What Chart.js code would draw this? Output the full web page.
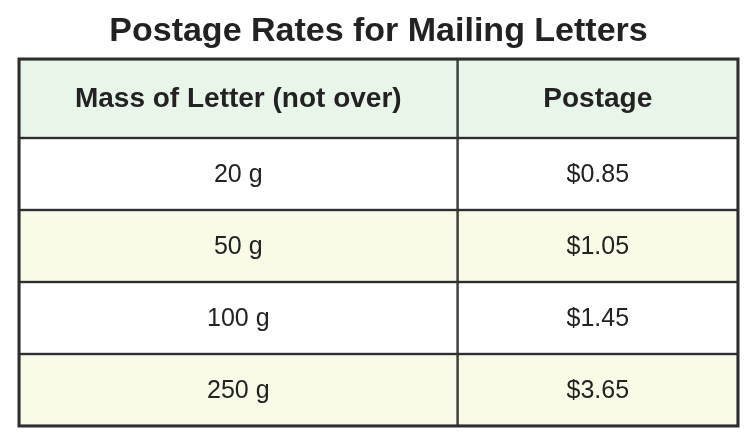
<!DOCTYPE html>
<html>
<head>
<meta charset="utf-8">
<script src="https://cdn.jsdelivr.net/npm/chart.js@4/dist/chart.umd.min.js"></script>
<style>
  html, body { margin: 0; padding: 0; background: #fff; }
  #wrap { width: 756px; height: 447px; }
</style>
</head>
<body>
<div id="wrap"><canvas id="myChart"></canvas></div>
<script>
// table content
var columns = ['Mass of Letter (not over)', 'Postage'];
var masses = ['20 g', '50 g', '100 g', '250 g'];
var postage = [0.85, 1.05, 1.45, 3.65];

// column edges on the x scale (0..100)
var colEdges = [0, 61, 100];

var headerColor = '#e8f5e9';
var stripeColor = '#f9fbe7';
var lineColor = '#2e2e2e';
var fontFamily = '"Liberation Sans", Arial, Helvetica, sans-serif';

var barStyle = {
    borderColor: lineColor,
    borderWidth: 1.5,
    borderSkipped: false,
    grouped: false,
    categoryPercentage: 1,
    barPercentage: 1
};

// header cells sit on their own stacked y axis, body cells on the other
var datasets = [];
columns.forEach(function (c, i) {
    var span = [colEdges[i], colEdges[i + 1]];
    datasets.push(Object.assign({
        label: c,
        part: 'head',
        yAxisID: 'yh',
        data: [{ x: span, y: 'header' }],
        backgroundColor: headerColor
    }, barStyle));
    datasets.push(Object.assign({
        label: c,
        part: 'body',
        col: i,
        yAxisID: 'y',
        data: masses.map(function (m) { return { x: span, y: m }; }),
        backgroundColor: masses.map(function (m, k) { return k % 2 === 1 ? stripeColor : '#ffffff'; })
    }, barStyle));
});

function cellText(ds, j) {
    if (ds.part === 'head') return ds.label;
    if (ds.col === 0) return masses[j];
    return '$' + postage[j].toFixed(2);
}

var cellLabels = {
    id: 'cellLabels',
    afterDatasetsDraw: function (chart) {
        var ctx = chart.ctx;
        var area = chart.chartArea;
        ctx.save();
        ctx.textAlign = 'center';
        ctx.textBaseline = 'middle';
        ctx.fillStyle = '#222';
        chart.data.datasets.forEach(function (ds, i) {
            chart.getDatasetMeta(i).data.forEach(function (bar, j) {
                var p = bar.getProps(['x', 'y', 'base'], true);
                ctx.font = ds.part === 'head' ? 'bold 28px ' + fontFamily : '25px ' + fontFamily;
                ctx.fillText(cellText(ds, j), (p.x + p.base) / 2, p.y + 1);
            });
        });
        // outer frame
        ctx.strokeStyle = lineColor;
        ctx.lineWidth = 3;
        ctx.strokeRect(area.left, area.top, area.right - area.left, area.bottom - area.top);
        ctx.restore();
    }
};

var ctx = document.getElementById('myChart').getContext('2d');
var myChart = new Chart(ctx, {
    type: 'bar',
    data: { datasets: datasets },
    options: {
        indexAxis: 'y',
        responsive: true,
        maintainAspectRatio: false,
        animation: false,
        events: [],
        layout: { padding: { left: 19, right: 18, top: 0, bottom: 21 } },
        scales: {
            x: { type: 'linear', min: 0, max: 100, display: false },
            y: {
                type: 'category', labels: masses, display: false, offset: true,
                position: 'left', stack: 'rows', stackWeight: 288
            },
            yh: {
                type: 'category', labels: ['header'], display: false, offset: true,
                position: 'left', stack: 'rows', stackWeight: 79
            }
        },
        plugins: {
            legend: { display: false },
            tooltip: { enabled: false },
            title: {
                display: true,
                text: 'Postage Rates for Mailing Letters',
                color: '#222',
                font: { family: fontFamily, size: 34, weight: 'bold' },
                padding: { top: 11, bottom: 7.2 }
            }
        }
    },
    plugins: [cellLabels]
});
</script>
</body>
</html>
